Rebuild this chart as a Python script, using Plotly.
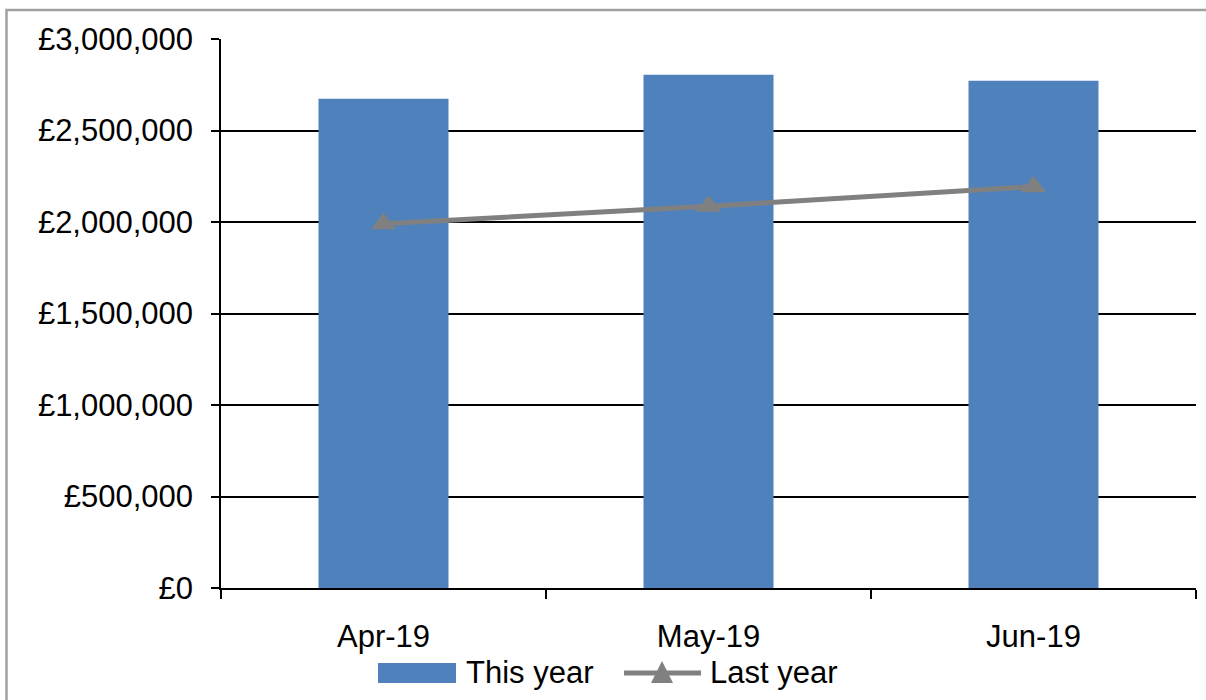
import plotly.graph_objects as go

# Monthly revenue, this year vs last year
months = ["Apr-19", "May-19", "Jun-19"]
this_year = [2674000, 2805000, 2772000]
last_year = [1991000, 2086000, 2193000]
y_ticks = [0, 500000, 1000000, 1500000, 2000000, 2500000, 3000000]
y_tick_text = [f"£{v:,}" for v in y_ticks]

BAR_COLOR = "#4F81BD"
LINE_COLOR = "#808080"
FONT = "Liberation Sans, Arial, sans-serif"

W, H = 1206, 700
L, R, T, B = 221, 10, 39, 112
PW, PH = W - L - R, H - T - B


def px(x):
    return (x - L) / PW


def py(y):
    return (H - B - y) / PH


fig = go.Figure()
fig.add_trace(go.Bar(
    x=months, y=this_year, name="This year",
    marker=dict(color=BAR_COLOR, line=dict(width=0)),
    showlegend=False,
))
fig.add_trace(go.Scatter(
    x=months, y=last_year, name="Last year", mode="lines+markers",
    line=dict(color=LINE_COLOR, width=5),
    marker=dict(symbol="triangle-up", size=22, color=LINE_COLOR),
    showlegend=False,
))

shapes = [
    # outer chart border
    dict(type="rect", xref="paper", yref="paper",
         x0=px(6.5), x1=px(1300), y0=py(800), y1=py(10),
         line=dict(color="#A0A0A0", width=2.5), fillcolor="rgba(0,0,0,0)",
         layer="below"),
    # legend: bar swatch
    dict(type="rect", xref="paper", yref="paper",
         x0=px(378), x1=px(456), y0=py(683), y1=py(663),
         line=dict(width=0), fillcolor=BAR_COLOR),
    # legend: line swatch
    dict(type="line", xref="paper", yref="paper",
         x0=px(624), x1=px(701), y0=py(673), y1=py(673),
         line=dict(color=LINE_COLOR, width=5)),
    # legend: triangle marker
    dict(type="path", xref="paper", yref="paper",
         path=f"M {px(651)},{py(683)} L {px(673)},{py(683)} L {px(662)},{py(661)} Z",
         line=dict(width=0), fillcolor=LINE_COLOR),
]

annotations = [
    dict(text="This year", xref="paper", yref="paper", x=px(464), y=py(672),
         xanchor="left", yanchor="middle", showarrow=False,
         font=dict(family=FONT, size=31, color="#000")),
    dict(text="Last year", xref="paper", yref="paper", x=px(708), y=py(672),
         xanchor="left", yanchor="middle", showarrow=False,
         font=dict(family=FONT, size=31, color="#000")),
]

fig.update_layout(
    width=W, height=H,
    margin=dict(l=L, r=R, t=T, b=B, pad=0),
    paper_bgcolor="white", plot_bgcolor="white",
    bargap=0.6,
    font=dict(family=FONT, size=31, color="#000"),
    shapes=shapes,
    annotations=annotations,
    xaxis=dict(
        type="category", categoryorder="array", categoryarray=months,
        showline=True, linecolor="#000", linewidth=1.5,
        ticks="outside", tickson="boundaries", ticklen=9, tickwidth=1.5,
        tickcolor="#000", showgrid=False, zeroline=False,
        tickfont=dict(family=FONT, size=31, color="#000"),
        ticklabelstandoff=20,
    ),
    yaxis=dict(
        range=[0, 3000000], tickvals=y_ticks, ticktext=y_tick_text,
        showline=True, linecolor="#000", linewidth=1.5,
        ticks="outside", ticklen=8, tickwidth=1.5, tickcolor="#000",
        showgrid=True, gridcolor="#000", gridwidth=1.5, zeroline=False,
        tickfont=dict(family=FONT, size=31, color="#000"),
        ticklabelstandoff=12,
    ),
)

fig.write_html("out.html")
